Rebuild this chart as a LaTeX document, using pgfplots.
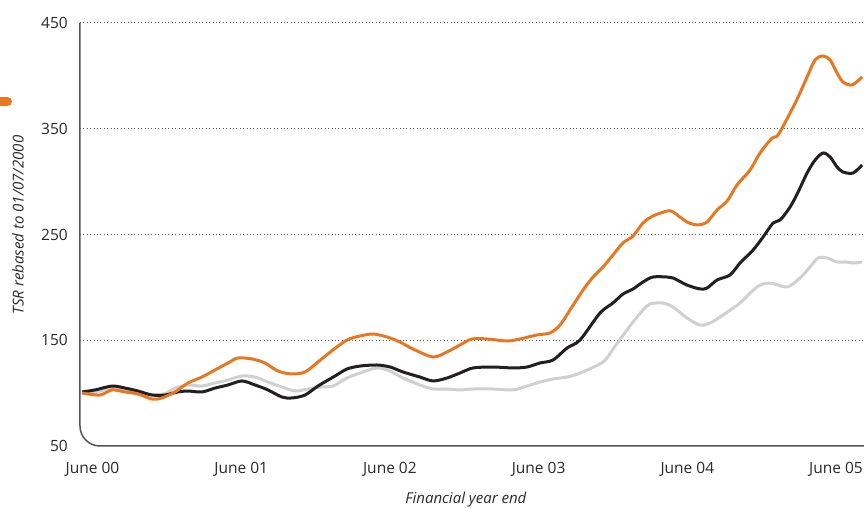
\documentclass[border=0pt]{standalone}
\usepackage{fontspec}
\setmainfont{Open Sans}
\usepackage{pgfplots}
\pgfplotsset{compat=1.18}

\definecolor{tsrorange}{HTML}{E87722}
\definecolor{tsrblack}{HTML}{231F20}
\definecolor{tsrgrey}{HTML}{D0D0D0}
\definecolor{axisgrey}{HTML}{555555}
\definecolor{labelgrey}{HTML}{2A2A2A}

\begin{document}
\begin{tikzpicture}
\begin{axis}[
    at={(0,0)}, anchor=south west,
    scale only axis, width=784pt, height=423pt,
    xmin=-0.084, xmax=5.188,
    ymin=50, ymax=450,
    clip=false,
    axis line style={draw=none},
    major tick length=0pt,
    xtick pos=bottom, ytick pos=left,
    xtick={0,1,2,3,4,5},
    xticklabels={June 00,June 01,June 02,June 03,June 04,June 05},
    ytick={150,250,350,450},
    extra y ticks={50},
    extra y tick style={grid=none},
    ymajorgrids,
    grid style={axisgrey, line width=1pt, dash pattern=on 1pt off 2.4pt},
    /pgf/number format/assume math mode=true,
    tick label style={font=\fontsize{15.5}{17}\selectfont, text=labelgrey},
    yticklabel style={anchor=east, inner sep=0pt, xshift=-12pt},
    xticklabel style={anchor=center, inner sep=0pt, yshift=-23pt},
    xlabel={Financial year end},
    ylabel={TSR rebased to 01/07/2000},
    label style={font=\fontsize{15}{17}\selectfont\itshape, text=labelgrey},
    xlabel style={at={(axis description cs:0.4923,0)}, anchor=center, yshift=-54pt},
    ylabel style={at={(axis description cs:-0.079,0.5225)}, anchor=center},
    every axis plot/.append style={line width=3pt, smooth, tension=0.5, line join=round},
]
% FTSE-type comparator (light grey)
\addplot[tsrgrey] coordinates {
(-0.071,100.1) (0.017,101.1) (0.131,104.5) (0.219,103.5) (0.306,101.0)
(0.400,98.5) (0.488,99.5) (0.555,104.8) (0.642,107.7) (0.736,106.7)
(0.824,109.6) (0.911,112.4) (1.005,116.2) (1.093,115.2) (1.180,110.5)
(1.274,105.8) (1.362,102.0) (1.449,103.9) (1.543,105.8) (1.617,106.7)
(1.711,114.3) (1.799,119.0) (1.913,123.8) (2.001,120.9) (2.088,114.3)
(2.202,107.7) (2.290,103.9) (2.384,103.9) (2.471,103.0) (2.559,103.9)
(2.693,103.9) (2.828,103.0) (2.922,106.7) (3.009,110.5) (3.097,113.4)
(3.191,115.2) (3.278,119.0) (3.433,129.4) (3.500,141.7) (3.594,159.7)
(3.635,167.3) (3.702,178.6) (3.749,184.3) (3.837,185.2) (3.904,181.4)
(3.998,171.0) (4.085,164.4) (4.153,166.3) (4.240,173.9) (4.354,185.2)
(4.469,200.4) (4.556,204.1) (4.671,200.4) (4.758,208.9) (4.825,219.3)
(4.879,227.8) (4.940,227.8) (5.007,224.0) (5.068,224.0) (5.114,223.0)
(5.175,224.0)
};
% comparator index (black)
\addplot[tsrblack] coordinates {
(-0.071,101.1) (0.017,103.0) (0.131,106.7) (0.219,104.8) (0.306,102.0)
(0.400,98.2) (0.488,98.2) (0.575,101.1) (0.642,102.0) (0.736,101.1)
(0.824,104.8) (0.911,107.7) (1.005,111.5) (1.093,107.7) (1.180,103.0)
(1.274,96.3) (1.342,95.4) (1.429,98.2) (1.516,106.7) (1.631,116.2)
(1.711,122.8) (1.799,125.6) (1.913,126.6) (2.001,124.7) (2.088,120.0)
(2.202,115.2) (2.290,111.5) (2.384,114.3) (2.471,119.0) (2.559,123.8)
(2.693,124.7) (2.828,123.8) (2.922,124.7) (3.009,128.5) (3.097,131.3)
(3.191,142.7) (3.278,150.2) (3.413,175.8) (3.500,185.2) (3.567,193.7)
(3.635,198.5) (3.702,205.1) (3.769,209.8) (3.864,209.8) (3.904,208.9)
(3.998,202.2) (4.085,198.5) (4.133,199.4) (4.200,207.0) (4.287,211.7)
(4.354,223.0) (4.442,235.3) (4.509,247.6) (4.577,260.9) (4.624,263.7)
(4.691,276.0) (4.745,290.2) (4.805,308.1) (4.859,320.4) (4.913,327.1)
(4.960,323.3) (5.007,313.8) (5.047,309.1) (5.114,308.1) (5.175,315.7)
};
% company TSR (orange)
\addplot[tsrorange] coordinates {
(-0.071,100.1) (0.050,98.2) (0.131,103.0) (0.219,101.1) (0.306,99.2)
(0.400,94.4) (0.467,95.4) (0.555,101.1) (0.642,109.6) (0.736,115.2)
(0.824,121.9) (0.911,128.5) (0.978,133.2) (1.073,132.3) (1.160,128.5)
(1.247,120.9) (1.342,118.1) (1.429,120.0) (1.516,129.4) (1.617,140.8)
(1.711,150.2) (1.799,154.0) (1.886,155.9) (1.980,153.1) (2.068,148.3)
(2.155,141.7) (2.290,134.2) (2.384,138.9) (2.471,145.5) (2.552,151.2)
(2.653,151.2) (2.788,149.3) (2.875,151.2) (2.989,155.0) (3.077,156.9)
(3.144,164.4) (3.211,178.6) (3.299,197.5) (3.366,209.8) (3.433,219.3)
(3.500,230.6) (3.567,242.0) (3.635,248.6) (3.702,260.9) (3.769,267.5)
(3.864,272.2) (3.904,271.3) (3.998,261.8) (4.072,259.0) (4.133,261.8)
(4.200,273.2) (4.267,281.5) (4.334,296.8) (4.422,311.0) (4.489,327.1)
(4.570,341.2) (4.610,344.1) (4.691,364.9) (4.745,380.0) (4.805,398.9)
(4.859,415.0) (4.913,418.8) (4.960,415.0) (5.007,402.7) (5.047,394.2)
(5.108,391.4) (5.175,398.9)
};
% left and bottom axis with rounded corner
\draw[axisgrey, line width=1.5pt, rounded corners=20pt]
    (rel axis cs:0,1) -- (rel axis cs:0,0) -- (rel axis cs:1,0);
\end{axis}
% cropped legend swatch at the left edge
\draw[tsrorange, line width=9pt, line cap=round] (-100pt,344.5pt) -- (-72.5pt,344.5pt);
\pgfresetboundingbox
\path (-80pt,-62pt) rectangle (784pt,446pt);
\end{tikzpicture}
\end{document}
